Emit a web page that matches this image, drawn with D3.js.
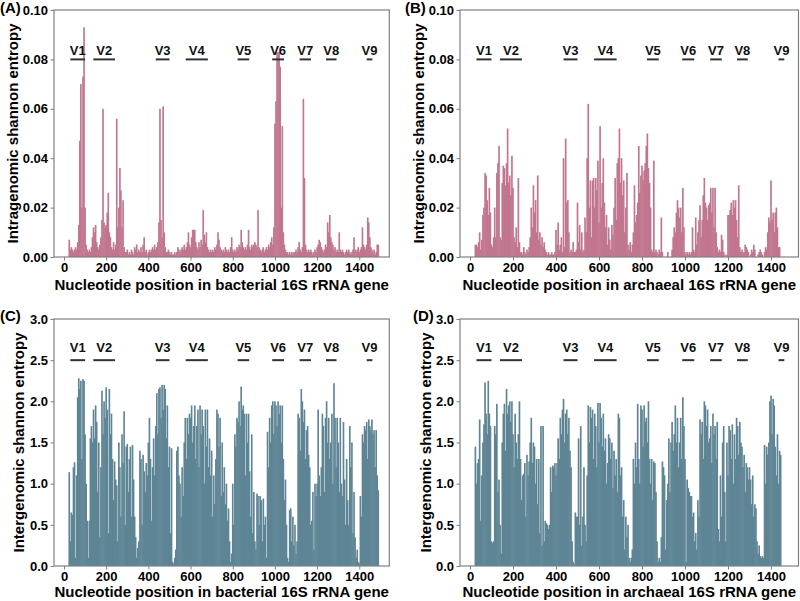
<!DOCTYPE html>
<html><head><meta charset="utf-8">
<script src="https://cdn.jsdelivr.net/npm/d3@7"></script>
<style>
html,body{margin:0;padding:0;background:#fff;}
svg{display:block;font-family:"Liberation Sans",Arial,sans-serif;font-weight:bold;}
</style></head>
<body>
<svg id="chart" width="800" height="601"></svg>
<script>
// ---------- data ----------
// positions: start 0, step 5 nt (20 values per 100 nt row)
const posStart = 0, posStep = 5;

const intraBacteria = [
0,0,0,0,0,.007,.003,.004,.003,.002,.003,.004,.003,.006,.013,.047,.070,.020,.073,.093,
.020,.005,.003,.002,.003,.002,.004,.008,.012,.010,.013,.006,.004,.003,.005,.008,.015,.060,.014,.012,
.013,.018,.026,.010,.008,.004,.003,.006,.003,.005,.056,.012,.020,.036,.027,.012,.023,.004,.002,.002,
.003,.001,.002,.001,.003,.002,.001,.004,.003,.005,.002,.003,.002,.004,.002,.005,.008,.002,.003,.001,
.002,.003,.002,.003,.004,.003,.005,.003,.004,.006,.014,.060,.015,.008,.061,.010,.004,.002,.002,.003,
.002,.001,.002,.001,.001,.002,.001,.002,.004,.003,.002,.003,.004,.003,.005,.003,.004,.006,.010,.005,
.004,.008,.011,.011,.011,.006,.004,.003,.006,.004,.007,.005,.019,.009,.006,.010,.004,.003,.002,.003,
.002,.003,.002,.004,.003,.005,.010,.007,.004,.003,.002,.003,.002,.004,.003,.002,.003,.002,.004,.008,
.003,.002,.003,.002,.004,.003,.005,.004,.011,.006,.004,.003,.004,.003,.005,.011,.004,.003,.005,.004,
.005,.006,.005,.004,.019,.004,.003,.002,.003,.004,.002,.003,.004,.003,.005,.004,.006,.008,.005,.012,
.054,.063,.083,.083,.083,.077,.020,.053,.010,.005,.003,.002,.002,.001,.002,.001,.002,.001,.002,.002,
.003,.002,.004,.006,.003,.002,.004,.064,.032,.005,.003,.002,.003,.002,.003,.002,.001,.002,.003,.002,
.004,.005,.007,.006,.004,.003,.002,.003,.005,.004,.014,.010,.017,.008,.006,.005,.003,.004,.002,.003,
.002,.010,.003,.002,.003,.002,.001,.002,.003,.002,.003,.002,.001,.002,.003,.008,.003,.002,.003,.004,
.002,.003,.004,.012,.005,.004,.003,.005,.016,.014,.008,.004,.003,.002,.003,.001,.002,.005,.005,0
];

const intraArchaea = [
0,0,0,0,0,.005,.005,.004,.006,.010,.003,.007,.017,.020,.034,.033,.023,.017,.028,.018,
.005,.004,.008,.020,.008,.034,.038,.045,.008,.007,.030,.037,.036,.029,.038,.052,.030,.033,.025,.041,
.028,.008,.006,.012,.004,.032,.006,.002,.002,.001,.004,.002,.001,.003,.002,.004,.008,.020,.012,.029,
.018,.023,.010,.033,.007,.010,.005,.008,.004,.006,.003,.002,.001,.002,.001,.001,.002,.001,.001,.002,
.011,.005,.014,.003,.005,.008,.002,.040,.004,.048,.022,.023,.010,.002,.003,.002,.006,.002,.002,.003,
.022,.006,.013,.003,.010,.002,.003,.016,.010,.040,.062,.020,.031,.008,.031,.032,.020,.032,.027,.039,
.014,.053,.020,.030,.040,.022,.012,.017,.005,.012,.007,.003,.013,.009,.020,.032,.015,.038,.040,.052,
.030,.040,.025,.031,.010,.020,.034,.005,.003,.006,.002,.005,.010,.029,.014,.017,.022,.045,.026,.033,
.037,.031,.035,.038,.045,.050,.036,.030,.020,.003,.002,.039,.002,.003,.002,.001,.003,.002,.016,.002,
0,0,0,0,.002,0,0,0,.003,.008,.012,.010,.018,.023,.020,.016,.020,.010,.028,.012,
.002,.001,.002,.001,.002,.001,.002,.012,.003,.002,.016,.005,.010,.015,.021,.008,.015,.025,.032,.022,
.020,.015,.021,.022,.028,.018,.028,.012,.028,.010,.004,.002,.003,.002,.009,.007,.002,.001,0,.001,
.017,.017,.019,.022,.017,.023,.020,.023,.015,.008,.029,.004,.002,.003,.002,.002,.005,.004,.003,.002,
0,.001,.003,.002,.005,.003,0,0,.001,.002,.003,.002,.001,0,.002,.004,.003,.010,.016,.014,
.031,.015,.018,.010,.018,.020,.012,.004,.004,0,0,0,0,0,0,0,0,0,0,0
];

const interBacteria = [
0,0,0,0,0,1.14,0.3,0.65,0.62,1.2,1.26,0.1,1.1,2.05,2.28,2.15,2.25,1.3,2.27,2.25,
1.6,1.0,0.55,0.1,0.55,1.55,1.7,1.5,1.9,1.55,1.95,1.75,0.9,1.5,0.35,1.2,2.13,1.6,2.0,1.8,
2.17,1.9,0.4,2.15,1.6,1.85,1.3,0.8,1.27,1.05,0.98,0.3,1.5,1.2,0.6,1.6,1.25,1.88,0.5,1.45,
1.48,0.9,1.3,1.45,0.6,1.47,1.05,0.6,0.35,0.1,0.22,0.3,1.4,1.3,0.5,1.35,1.15,0.9,1.25,1.1,
1.5,1.8,1.3,0.55,1.2,1.55,1.1,1.7,2.1,1.6,2.15,2.17,1.8,2.2,1.9,2.2,2.15,1.55,1.95,1.2,
1.45,0.4,1.43,0.05,0.03,0.1,0.2,1.4,1.45,1.1,1.0,0.6,1.2,0.85,1.5,1.8,1.3,1.8,1.6,1.85,
1.8,1.95,1.5,1.7,1.95,1.3,1.7,1.9,1.2,1.95,1.6,1.9,1.7,1.0,1.9,1.45,1.9,1.2,1.55,1.1,
1.4,0.6,1.1,0.75,1.3,1.9,1.85,1.45,1.8,0.85,1.5,0.9,1.2,0.75,1.0,0.55,0.7,0.3,0.05,0.15,
1.0,0.5,1.6,1.45,1.8,1.75,2.0,1.7,2.18,1.9,1.95,1.85,1.1,1.85,1.5,1.85,1.15,0.6,1.6,0.4,
0.9,0.3,0.2,0.88,0.85,0.5,0.85,0.8,0.3,0.82,0.5,0.6,0.1,1.63,1.2,1.8,1.5,1.95,2.0,1.6,
2.0,1.95,1.7,2.0,1.85,1.95,1.5,1.95,1.3,0.8,1.05,0.5,0.1,0.05,0.68,0.7,0.3,0.6,0.25,0.5,
0.15,0.3,1.85,1.8,1.4,2.15,2.0,1.75,1.9,1.3,1.65,1.7,1.35,1.2,0.5,0.55,0.9,0.2,1.0,0.85,
1.0,1.9,1.1,0.85,1.2,1.85,1.7,0.9,1.8,2.0,1.5,1.8,1.3,1.5,1.85,1.0,2.22,1.8,1.2,1.8,
1.5,0.9,1.8,1.0,0.85,1.75,1.05,0.5,1.3,0.8,0.5,1.7,1.2,1.5,0.4,0.9,0.35,0.1,0.2,0.05,
0.03,0.85,0.6,1.6,1.5,1.7,1.65,1.75,1.3,1.78,1.7,1.65,1.78,1.6,1.65,1.2,1.65,1.1,0.92,0
];

const interArchaea = [
0,0,0,0,0,1.45,1.0,1.25,1.3,1.78,0.55,1.1,1.5,1.72,2.23,1.85,1.6,2.25,1.85,1.7,
0.3,0.28,0.3,1.7,1.6,1.97,0.9,1.05,0.5,0.15,1.5,1.85,1.97,1.4,2.15,1.85,1.95,2.0,1.75,2.0,
1.6,1.2,1.85,1.5,1.3,1.6,2.0,1.3,0.8,1.1,1.12,1.25,0.6,1.35,1.1,1.27,1.5,1.8,1.25,1.5,
1.45,1.0,1.3,0.75,1.3,0.4,1.7,0.25,1.7,0.3,0.55,0.52,0.5,0.45,0.5,1.2,0.9,1.22,1.2,1.25,
1.1,1.25,1.55,1.3,1.8,1.6,1.9,2.03,1.5,1.85,1.9,1.6,1.8,1.4,1.2,0.3,0.05,0.02,0.65,0.6,
0.6,1.55,0.5,1.7,0.25,0.6,1.2,0.5,0.3,1.1,1.95,1.5,1.93,1.8,1.9,1.3,1.85,1.7,1.2,1.98,
1.5,1.98,1.8,1.45,1.85,1.4,1.55,1.0,1.25,1.6,1.55,1.3,1.5,0.95,1.4,1.1,1.3,0.9,1.85,1.8,
1.1,1.2,0.6,0.8,0.2,0.6,0.35,0.5,0.1,0.05,0.1,0.2,1.3,1.0,1.5,1.2,1.97,1.3,1.0,1.95,
1.9,1.45,1.95,1.75,1.8,1.5,2.0,1.3,1.0,1.3,0.8,1.27,1.25,0.9,0.3,0.05,0.1,0.05,0.35,1.27,
1.2,1.1,0.2,0.8,1.0,1.55,0.9,1.5,1.75,1.4,1.6,1.95,1.5,1.8,1.2,1.5,1.8,1.3,2.05,1.7,
1.3,0.05,1.05,0.95,0.9,0.85,0.85,0.6,0.65,0.3,0.4,0.2,0.8,0.6,1.78,1.6,1.75,1.3,2.0,1.95,
1.7,1.9,1.5,1.55,1.7,1.25,1.85,1.6,1.7,1.3,1.75,0.45,0.3,1.1,0.6,1.5,1.7,0.9,0.3,1.5,
1.1,1.7,1.65,1.3,1.72,1.0,1.6,1.3,1.8,1.7,1.35,1.75,1.5,1.45,1.2,1.35,0.9,1.25,1.2,1.05,
1.2,1.05,0.75,1.1,0.6,0.75,0.7,0.3,0.15,0.25,0.12,0.1,0.12,0.1,1.47,1.0,1.45,1.35,1.5,2.0,
2.07,1.6,2.03,1.95,1.45,1.1,1.6,1.0,1.4,1.35,0,0,0,0,0,0,0,0,0,0
];

const regionNames = ["V1","V2","V3","V4","V5","V6","V7","V8","V9"];
const regionStart = [30,139,435,577,823,987,1117,1242,1435];
const regionEnd   = [100,242,500,682,878,1043,1171,1292,1462];

const xTicks = [0,200,400,600,800,1000,1200,1400];
const yTicksIntra = [0,0.02,0.04,0.06,0.08,0.10];
const yTicksInter = [0,0.5,1.0,1.5,2.0,2.5,3.0];

const panelLetters = ["(A)","(B)","(C)","(D)"];
const xTitles = ["Nucleotide position in bacterial 16S rRNA gene","Nucleotide position in archaeal 16S rRNA gene",
                 "Nucleotide position in bacterial 16S rRNA gene","Nucleotide position in archaeal 16S rRNA gene"];
const yTitles = ["Intragenomic shannon entropy","Intragenomic shannon entropy",
                 "Intergenomic shannon entropy","Intergenomic shannon entropy"];

// ---------- layout ----------
const PINK = "#c1768f", BLUE = "#5e8595";
const panels = [
  {data:intraBacteria, color:PINK, l:54, r:389.3, t:10, b:257, x0:64, x1400:359.3, ymax:0.1, ticks:yTicksIntra, fmt:".2f",
   lineV:0.08, textV:0.0818, ylabX:18, xlabY:290, letX:0, letY:13},
  {data:intraArchaea, color:PINK, l:460, r:798.5, t:10, b:257, x0:470, x1400:771, ymax:0.1, ticks:yTicksIntra, fmt:".2f",
   lineV:0.08, textV:0.0818, ylabX:424, xlabY:290, letX:405, letY:13},
  {data:interBacteria, color:BLUE, l:54, r:389.3, t:319, b:566, x0:64, x1400:359.3, ymax:3, ticks:yTicksInter, fmt:".1f",
   lineV:2.5, textV:2.6, ylabX:24, xlabY:597, letX:0, letY:321},
  {data:interArchaea, color:BLUE, l:460, r:798.5, t:319, b:566, x0:470, x1400:771, ymax:3, ticks:yTicksInter, fmt:".1f",
   lineV:2.5, textV:2.6, ylabX:431, xlabY:597, letX:413, letY:321}
];

const svg = d3.select("#chart");

panels.forEach((p, i) => {
  const k = (p.x1400 - p.x0) / 1400;
  const x = d3.scaleLinear().domain([(p.l - p.x0)/k, (p.r - p.x0)/k]).range([p.l, p.r]);
  const y = d3.scaleLinear().domain([0, p.ymax]).range([p.b, p.t]);
  const g = svg.append("g");

  const pts = p.data.map((v, j) => ({pos: posStart + j*posStep, v}));
  g.append("g").selectAll("rect").data(pts.filter(d => d.v > 0)).join("rect")
    .attr("x", d => x(d.pos - posStep/2) - 0.3)
    .attr("width", d => x(d.pos + posStep/2) - x(d.pos - posStep/2) + 0.6)
    .attr("y", d => y(d.v))
    .attr("height", d => y(0) - y(d.v))
    .attr("fill", p.color);

  // region markers
  regionNames.forEach((nm, j) => {
    g.append("line")
      .attr("x1", x(regionStart[j])).attr("x2", x(regionEnd[j]))
      .attr("y1", y(p.lineV)).attr("y2", y(p.lineV))
      .attr("stroke", "#333").attr("stroke-width", 2);
    g.append("text")
      .attr("x", x((regionStart[j] + regionEnd[j]) / 2))
      .attr("y", y(p.textV))
      .attr("text-anchor", "middle").attr("font-size", 13).attr("fill", "#111")
      .text(nm);
  });

  // axes
  const ax = g.append("g").attr("transform", `translate(0,${p.b})`)
    .call(d3.axisBottom(x).tickValues(xTicks).tickFormat(d3.format("d")).tickSize(3.5).tickPadding(2.5));
  const ay = g.append("g").attr("transform", `translate(${p.l},0)`)
    .call(d3.axisLeft(y).tickValues(p.ticks).tickFormat(d3.format(p.fmt)).tickSize(3.5).tickPadding(2.5));
  [ax, ay].forEach(a => {
    a.select(".domain").remove();
    a.selectAll(".tick line").attr("stroke", "#808080");
    a.selectAll(".tick text").attr("fill", "#000").attr("font-size", 13)
      .attr("font-family", "'Liberation Sans',Arial,sans-serif").attr("font-weight", "bold");
  });

  // frame
  g.append("rect").attr("x", p.l).attr("y", p.t).attr("width", p.r - p.l).attr("height", p.b - p.t)
    .attr("fill", "none").attr("stroke", "#808080").attr("stroke-width", 1.2);

  // titles
  g.append("text").attr("x", (p.l + p.r) / 2).attr("y", p.xlabY)
    .attr("text-anchor", "middle").attr("font-size", 15).attr("fill", "#000").text(xTitles[i]);
  g.append("text").attr("transform", `translate(${p.ylabX},${(p.t + p.b) / 2}) rotate(-90)`)
    .attr("text-anchor", "middle").attr("font-size", 15).attr("fill", "#000").text(yTitles[i]);
  g.append("text").attr("x", p.letX).attr("y", p.letY)
    .attr("font-size", 15).attr("fill", "#000").text(panelLetters[i]);
});
</script>
</body></html>
